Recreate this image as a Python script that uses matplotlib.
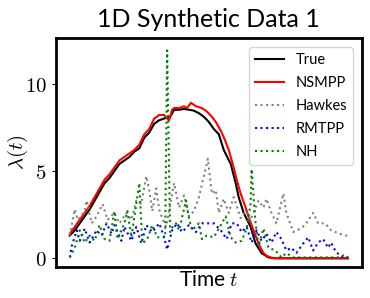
import matplotlib
matplotlib.use("Agg")
import matplotlib.pyplot as plt
from matplotlib.ticker import FixedLocator, FuncFormatter

plt.rcParams['font.family'] = ['Lato', 'DejaVu Sans']
plt.rcParams['mathtext.fontset'] = 'cm'

# ---- data (time in arbitrary units, 0..280) ----
t_true = [0, 5, 10, 15, 20, 25, 30, 35, 40, 45, 50, 55, 60, 65, 70, 75, 80, 85, 90, 95,
          98, 100, 105, 110, 115, 120, 125, 130, 135, 140, 145, 150, 155, 162, 167, 170,
          175, 182, 187, 193, 200, 205, 280]
v_true = [1.3, 1.6, 2.0, 2.4, 2.8, 3.3, 3.8, 4.3, 4.6, 5.0, 5.4, 5.6, 5.8, 6.1, 6.3, 6.9,
          7.2, 7.7, 7.9, 8.0, 8.05, 8.0, 8.5, 8.5, 8.55, 8.5, 8.45, 8.3, 8.1, 7.8, 7.4, 7.1,
          6.2, 5.4, 4.3, 3.5, 2.6, 1.8, 0.85, 0.3, 0.05, 0.0, 0.0]

t_nsmpp = [0, 5, 10, 15, 20, 25, 30, 35, 40, 45, 50, 55, 60, 65, 70, 75, 80, 85, 90, 95,
           98, 100, 103, 105, 110, 115, 118, 122, 127, 133, 138, 143, 147, 152, 156, 160,
           164, 168, 172, 177, 181, 185, 189, 192, 195, 198, 203, 210, 280]
v_nsmpp = [1.4, 1.8, 2.2, 2.6, 3.0, 3.5, 4.0, 4.5, 4.8, 5.2, 5.6, 5.8, 6.0, 6.2, 6.5, 7.1,
           7.4, 8.0, 8.2, 8.2, 8.0, 7.9, 8.5, 8.6, 8.6, 8.7, 8.6, 8.9, 8.7, 8.6, 8.4, 8.1,
           7.8, 7.3, 6.8, 6.2, 5.4, 4.5, 3.7, 2.9, 2.2, 1.6, 1.0, 0.6, 0.3, 0.15, 0.03, 0.0, 0.0]

t_hawkes = [0, 5, 8, 15, 17, 22, 27, 33, 38, 45, 50, 57, 62, 67, 72, 77, 80, 83, 87, 90,
            93, 97, 105, 110, 115, 120, 125, 130, 137, 139, 143, 147, 150, 155, 160, 165,
            172, 177, 182, 190, 195, 198, 203, 208, 215, 218, 225, 232, 237, 245, 250, 257,
            263, 272, 278, 280]
v_hawkes = [1.3, 2.8, 2.2, 2.7, 3.3, 2.0, 2.4, 3.1, 2.2, 2.6, 2.0, 2.6, 2.2, 3.3, 3.1, 4.7,
            3.9, 2.7, 4.0, 2.8, 2.3, 1.8, 4.3, 2.9, 3.6, 2.4, 2.7, 3.5, 5.2, 5.7, 3.7, 3.9,
            2.6, 3.4, 2.6, 3.5, 2.3, 2.7, 2.2, 3.3, 2.9, 3.4, 2.6, 2.0, 3.7, 2.6, 1.5, 1.7,
            1.9, 2.6, 2.0, 2.0, 1.6, 1.4, 1.3, 1.3]

t_rmtpp = [0, 2, 7, 10, 15, 20, 27, 32, 37, 42, 45, 52, 55, 62, 67, 72, 77, 83, 90, 95,
           98, 103, 108, 113, 120, 127, 133, 138, 145, 152, 158, 163, 168, 173, 178, 183,
           188, 193, 198, 203, 208, 213, 218, 223, 228, 235, 240, 245, 250, 255, 260, 263,
           268, 275, 280]
v_rmtpp = [0.05, 0.7, 1.6, 1.0, 1.7, 0.9, 1.6, 1.3, 2.0, 1.4, 1.9, 1.0, 1.8, 1.0, 1.8, 0.85,
           1.9, 1.5, 2.0, 1.2, 0.5, 1.6, 2.0, 1.5, 1.9, 1.5, 2.0, 2.0, 2.0, 1.6, 1.1, 2.0,
           2.0, 1.5, 1.8, 0.9, 1.6, 1.0, 1.4, 0.9, 1.5, 1.1, 0.45, 0.6, 0.3, 0.85, 1.2, 0.45,
           0.9, 1.1, 0.6, 0.9, 0.35, 0.05, 0.05]

t_nh = [0, 5, 10, 15, 20, 25, 30, 35, 40, 45, 48, 55, 58, 62, 70, 73, 78, 83, 88, 96,
        98, 101, 102, 107, 110, 117, 120, 123, 130, 133, 138, 145, 150, 157, 162, 167,
        173, 178, 182, 183, 187, 190, 195, 200, 207, 213, 218, 225, 240, 270, 277, 280]
v_nh = [0.05, 0.6, 1.6, 0.9, 1.3, 1.0, 1.9, 1.1, 1.0, 2.7, 1.1, 2.0, 2.7, 1.2, 4.3, 0.85,
        1.1, 1.9, 1.2, 1.2, 11.9, 1.5, 1.7, 2.0, 1.6, 3.3, 2.3, 1.6, 2.0, 1.1, 1.3, 1.2,
        1.7, 2.4, 1.2, 0.9, 1.0, 1.7, 3.1, 5.1, 2.0, 0.7, 1.7, 0.6, 0.45, 0.05, 0.3, 0.05,
        0.05, 0.05, 0.2, 0.05]

yticks = [0, 5, 10]

fig = plt.figure(figsize=(3.70, 2.98), dpi=100)
ax = fig.add_axes([0.151, 0.104, 0.827, 0.768])

ax.plot(t_true, v_true, color='black', lw=1.5, label='True')
ax.plot(t_nsmpp, v_nsmpp, color='red', lw=1.5, label='NSMPP')
ax.plot(t_hawkes, v_hawkes, color='gray', lw=1.5, ls=':', label='Hawkes')
ax.plot(t_rmtpp, v_rmtpp, color='blue', lw=1.5, ls=':', label='RMTPP')
ax.plot(t_nh, v_nh, color='green', lw=1.5, ls=':', label='NH')

ax.set_xlim(-14, 294)
ax.set_ylim(-0.5, 12.6)
ax.set_xticks([])
ax.yaxis.set_major_locator(FixedLocator(yticks))
ax.yaxis.set_major_formatter(FuncFormatter(lambda v, p: f"${int(v)}$"))
ax.tick_params(axis='y', labelsize=15, length=3, width=0.8)
for s in ax.spines.values():
    s.set_linewidth(2)

ax.set_title('1D Synthetic Data 1', fontsize=18, pad=8)
ax.set_xlabel('Time $t$', fontsize=15, labelpad=2)
ax.set_ylabel(r'$\lambda(t)$', fontsize=15)
ax.yaxis.set_label_coords(-0.085, 0.5)
ax.legend(loc='upper right', fontsize=10.5, handlelength=2.0, labelspacing=0.62,
          borderaxespad=0.6)

fig.savefig('out.png', dpi=100)
